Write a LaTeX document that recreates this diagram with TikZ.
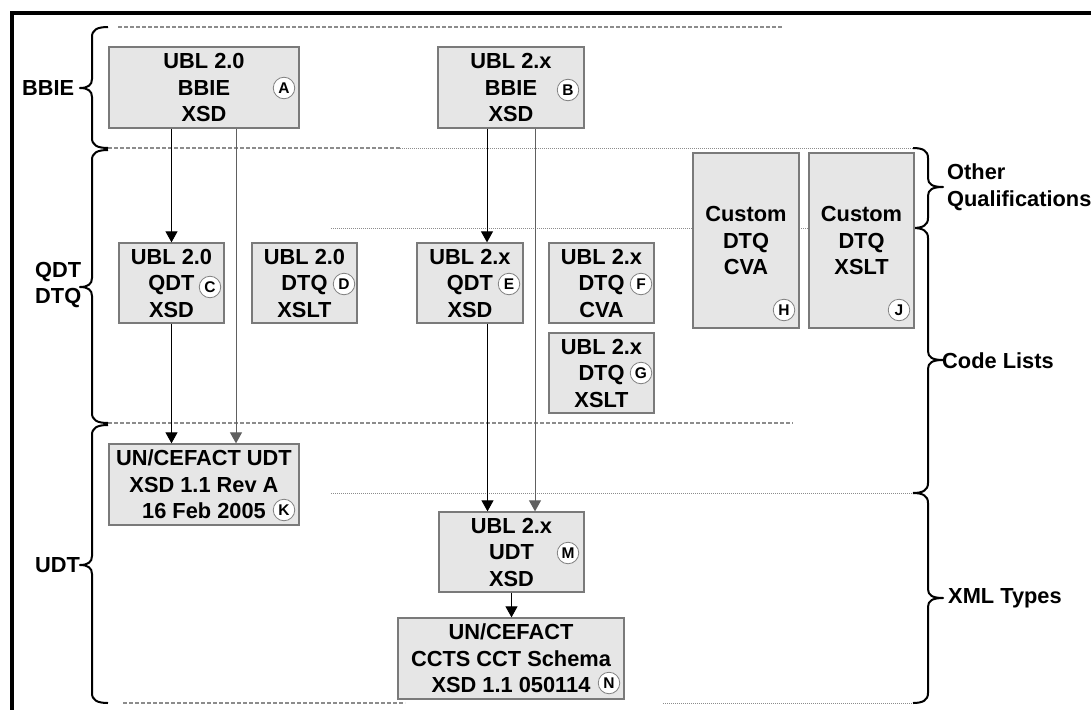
\documentclass[tikz,border=0pt]{standalone}
\usepackage{fontspec}
\setmainfont{Liberation Sans}
\usetikzlibrary{arrows.meta}
\definecolor{boxfill}{HTML}{E6E6E6}
\definecolor{boxline}{HTML}{7A7A7A}
\definecolor{tagline}{HTML}{808080}
\definecolor{sepgray}{HTML}{8C8C8C}
\definecolor{linkgray}{HTML}{606060}
% left brace: top y, bottom y, tip y
\newcommand\myBraceL[3]{%
  \draw[brc] (108,#1) .. controls (97,#1) and (92,#1+3) .. (92,#1+10)
    -- (92,#3-9) .. controls (92,#3-3) and (88,#3) .. (80,#3)
    .. controls (88,#3) and (92,#3+3) .. (92,#3+9)
    -- (92,#2-10) .. controls (92,#2-3) and (97,#2) .. (108,#2);}
% right brace: top y, bottom y, tip y
\newcommand\myBraceR[3]{%
  \draw[brc] (913,#1) .. controls (923,#1) and (928,#1+3) .. (928,#1+10)
    -- (928,#3-9) .. controls (928,#3-3) and (932,#3) .. (943,#3)
    .. controls (932,#3) and (928,#3+3) .. (928,#3+9)
    -- (928,#2-10) .. controls (928,#2-3) and (923,#2) .. (913,#2);}
\begin{document}
\begin{tikzpicture}[x=1pt,y=-1pt,
  box/.style={draw=boxline, fill=boxfill, line width=1.3pt, inner sep=0pt, align=center,
    font=\bfseries\fontsize{21.8}{26.5}\selectfont},
  tag/.style={circle, draw=tagline, fill=white, line width=0.8pt, inner sep=0pt,
    minimum size=21.5pt, font=\bfseries\fontsize{15.5}{15.5}\selectfont},
  lbl/.style={inner sep=0pt, align=left, font=\bfseries\fontsize{21.8}{26.5}\selectfont},
  sepdash/.style={draw=sepgray, line width=1.3pt, dash pattern=on 4pt off 2pt},
  sepdot/.style={draw=sepgray, line width=1pt, dash pattern=on 1pt off 1pt},
  brc/.style={draw=black, line width=2pt, line join=round},
  conn/.style={-{Triangle[width=12pt,length=11pt]}, line width=1pt, draw=black},
  conng/.style={conn, draw=linkgray}
]
\useasboundingbox (0,0) rectangle (1091,709);
\fill[white] (0,0) rectangle (1091,709);

% frame
\draw[line width=4pt] (1100,13) -- (12,13) -- (12,720);

% separators
\draw[sepdash] (118,27) -- (783,27);
\draw[sepdash] (108,148) -- (400,148);
\draw[sepdot] (400,148) -- (913,148);
\draw[sepdot] (331,228) -- (913,228);
\draw[sepdash] (108,423) -- (793,423);
\draw[sepdot] (331,493) -- (913,493);
\draw[sepdash] (123,703) -- (405,703);
\draw[sepdot] (663,703) -- (913,703);

% braces
\myBraceL{27}{148}{88}
\myBraceL{150}{423}{287}
\myBraceL{425}{703}{565}
\myBraceR{148}{228}{187}
\myBraceR{228}{493}{360}
\myBraceR{493}{703}{598}

% brace labels
\node[lbl, anchor=west] (lBBIE) at (22,88) {BBIE};
\node[lbl, anchor=west] (lQDT) at (35,285) {QDT\\DTQ};
\node[lbl, anchor=west] (lUDT) at (35,565) {UDT};
\node[lbl, anchor=west] (lOQ) at (947,187) {Other\\Qualifications};
\node[lbl, anchor=west] (lCL) at (942,361) {Code Lists};
\node[lbl, anchor=west] (lXT) at (948,598) {XML Types};

% boxes
\node[box, minimum width=190pt, minimum height=81pt] (A) at (204,87.5) {UBL 2.0\\BBIE\\XSD};
\node[box, minimum width=146pt, minimum height=81pt] (B) at (511,87.5) {UBL 2.x\\BBIE\\XSD};
\node[box, minimum width=105pt, minimum height=80pt] (C) at (171.5,283) {UBL 2.0\\QDT\\XSD};
\node[box, minimum width=105pt, minimum height=80pt] (D) at (304.5,283) {UBL 2.0\\DTQ\\XSLT};
\node[box, minimum width=106pt, minimum height=80pt] (E) at (470,283) {UBL 2.x\\QDT\\XSD};
\node[box, minimum width=105pt, minimum height=80pt] (F) at (601.5,283) {UBL 2.x\\DTQ\\CVA};
\node[box, minimum width=105pt, minimum height=80pt] (G) at (601.5,373) {UBL 2.x\\DTQ\\XSLT};
\node[box, minimum width=106pt, minimum height=175pt] (H) at (746,240.5) {Custom\\DTQ\\CVA};
\node[box, minimum width=105pt, minimum height=175pt] (J) at (861.5,240.5) {Custom\\DTQ\\XSLT};
\node[box, minimum width=190pt, minimum height=81pt] (K) at (204,484.5) {UN/CEFACT UDT\\XSD 1.1 Rev A\\16 Feb 2005};
\node[box, minimum width=145pt, minimum height=80pt] (M) at (511.5,552) {UBL 2.x\\UDT\\XSD};
\node[box, minimum width=226pt, minimum height=81pt] (N) at (511,658.5) {UN/CEFACT\\CCTS CCT Schema\\XSD 1.1 050114};

% tags
\node[tag] (tA) at (284,88) {A};
\node[tag] (tB) at (568,90) {B};
\node[tag] (tC) at (210,287) {C};
\node[tag] (tD) at (344,284) {D};
\node[tag] (tE) at (509,284) {E};
\node[tag] (tF) at (641,284) {F};
\node[tag] (tG) at (641,373) {G};
\node[tag] (tH) at (784,310) {H};
\node[tag] (tJ) at (899,310) {J};
\node[tag] (tK) at (284,510) {K};
\node[tag] (tM) at (568,553) {M};
\node[tag] (tN) at (609,683) {N};

% connectors
\draw[conn] (A.south -| C.north) -- (C.north);
\draw[conng] ([xshift=32pt]A.south) -- ([xshift=32pt]A.south |- K.north);
\draw[conn] (C.south) -- (C.south |- K.north);
\draw[conn] ([xshift=-24pt]B.south) -- ([xshift=-24pt]B.south |- E.north);
\draw[conng] ([xshift=24pt]B.south) -- ([xshift=24pt]B.south |- M.north);
\draw[conn] ([xshift=-24pt]M.north |- E.south) -- ([xshift=-24pt]M.north);
\draw[conn] (M.south) -- (M.south |- N.north);
\end{tikzpicture}
\end{document}
